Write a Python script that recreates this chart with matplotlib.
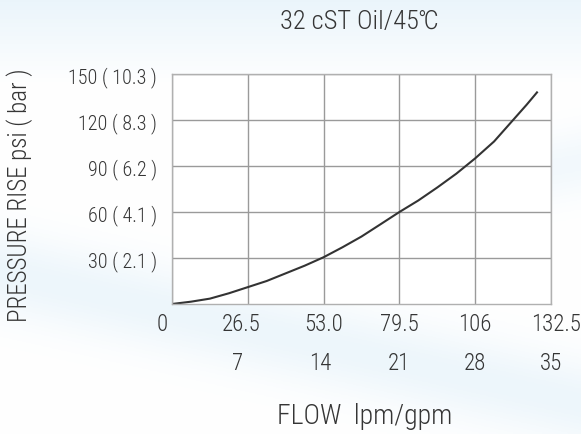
import matplotlib
matplotlib.use("Agg")
import matplotlib.pyplot as plt
import matplotlib.transforms as mtransforms
import numpy as np

# curve (flow in lpm, pressure rise in psi)
flow_lpm = [0, 6.6, 13.25, 19.9, 26.5, 33.1, 39.75, 46.4, 53, 59.6, 66.25,
            72.9, 79.5, 86.1, 92.75, 99.4, 106, 112.6, 119.25, 124, 127.6]
rise_psi = [0, 1.5, 3.5, 7, 11, 15, 20, 25, 30.5, 37, 44,
            52, 60, 67.5, 76, 85, 95, 106, 120, 130, 138]

lpm_ticks = [0, 26.5, 53.0, 79.5, 106, 132.5]
lpm_labels = ["0", "26.5", "53.0", "79.5", "106", "132.5"]
gpm_labels = ["", "7", "14", "21", "28", "35"]
psi_ticks = [30, 60, 90, 120, 150]
bar_labels = ["2.1", "4.1", "6.2", "8.3", "10.3"]

plt.rcParams['font.family'] = ['Roboto Condensed', 'Liberation Sans', 'DejaVu Sans']
plt.rcParams['font.weight'] = 'light'
txt = '#353535'
W, H = 581, 435

fig = plt.figure(figsize=(W / 100, H / 100), dpi=100)

# faint bluish background swooshes
bg = fig.add_axes([0, 0, 1, 1], zorder=-1)
yy, xx = np.mgrid[0:1:200j, 0:1:300j]
band = np.exp(-((yy - 0.78 - 0.30 * (xx - 0.5)) / 0.10) ** 2) * 0.7
band2 = np.exp(-((yy - 0.40 + 0.25 * (xx - 0.9)) / 0.08) ** 2) * 0.5 * (xx > 0.6)
top = np.clip(1 - yy * 5, 0, 1) * 0.8
shade = np.clip(band + band2 + top, 0, 1)
rgb = np.ones((200, 300, 3))
rgb[..., 0] -= 0.10 * shade
rgb[..., 1] -= 0.05 * shade
rgb[..., 2] -= 0.02 * shade
bg.imshow(rgb, extent=[0, 1, 0, 1], aspect='auto', origin='upper')
bg.axis('off')

ax = fig.add_axes([172 / W, 1 - 305 / H, 379 / W, 230 / H])
ax.set_facecolor('white')
ax.plot(flow_lpm, rise_psi, color='#333333', lw=1.5)
ax.set_xlim(0, 132.5)
ax.set_ylim(0, 150)

ax.set_xticks(lpm_ticks)
ax.set_xticklabels([])
ax.set_yticks(psi_ticks)
ax.set_yticklabels([f"{p} ( {b} )" for p, b in zip(psi_ticks, bar_labels)],
                   fontsize=14.5, color=txt)
ax.tick_params(length=0, pad=11)
ax.grid(True, color='#9a9a9a', lw=1.0)
for s in ax.spines.values():
    s.set_color('#b0b0b0')
    s.set_linewidth(1.0)

# two rows of flow labels: lpm and gpm (slight nudges as in the original)
trans = mtransforms.blended_transform_factory(ax.transData, fig.transFigure)
nudge1 = [-10, -7, 0, 0, 0, 5]
nudge2 = [0, -10, -3, -1, 0, 0]
for x, a, b, n1, n2 in zip(lpm_ticks, lpm_labels, gpm_labels, nudge1, nudge2):
    t1 = trans + mtransforms.ScaledTranslation(n1 / 100, 0, fig.dpi_scale_trans)
    t2 = trans + mtransforms.ScaledTranslation(n2 / 100, 0, fig.dpi_scale_trans)
    ax.text(x, 1 - 325 / H, a, transform=t1, ha='center', va='center',
            fontsize=16.5, color=txt)
    ax.text(x, 1 - 364 / H, b, transform=t2, ha='center', va='center',
            fontsize=16.5, color=txt)

fig.text(365 / W, 1 - 417 / H, "FLOW  lpm/gpm", ha='center', va='center',
         fontsize=20, color=txt)
fig.text(20 / W, 1 - 195 / H, "PRESSURE RISE psi ( bar )", rotation=90,
         ha='center', va='center', fontsize=18, color=txt)
fig.text(359 / W, 1 - 22 / H, "32 cST Oil/45℃", ha='center', va='center',
         fontsize=19, color=txt)

fig.savefig("out.png", dpi=100)
